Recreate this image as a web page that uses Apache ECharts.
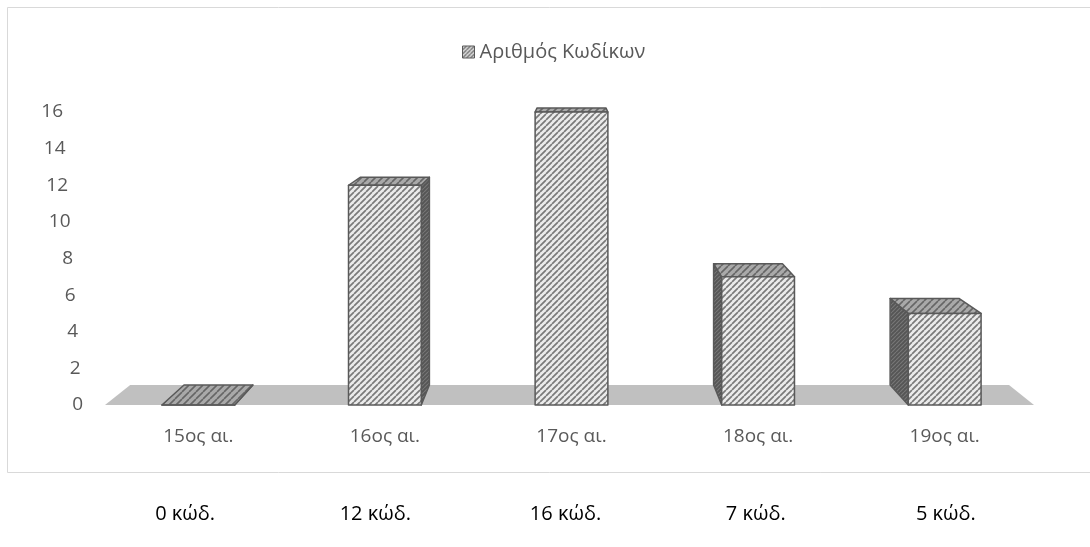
<!DOCTYPE html>
<html>
<head>
<meta charset="utf-8">
<script src="https://cdn.jsdelivr.net/npm/echarts@6/dist/echarts.min.js"></script>
<style>
  html, body { margin: 0; padding: 0; background: #ffffff; }
  #chart { width: 1090px; height: 547px; }
</style>
</head>
<body>
<div id="chart"></div>
<script>
// Codices per century
const categories = ['15ος αι.', '16ος αι.', '17ος αι.', '18ος αι.', '19ος αι.'];
const codexCounts = [0, 12, 16, 7, 5];
const yTicks = [0, 2, 4, 6, 8, 10, 12, 14, 16];
const seriesName = 'Αριθμός Κωδίκων';
const countUnit = 'κώδ.';

const FONT = '"Open Sans", "Noto Sans", sans-serif';
const TEXT_GREY = '#595959';
const EDGE = '#595959';

// Small repeating diagonal-hatch tiles used as fills
function hatch(bg, fg, size, lw) {
  const c = document.createElement('canvas');
  c.width = size; c.height = size;
  const g = c.getContext('2d');
  g.fillStyle = bg;
  g.fillRect(0, 0, size, size);
  g.strokeStyle = fg;
  g.lineWidth = lw;
  g.beginPath();
  for (const o of [-size, 0, size]) {
    g.moveTo(o, size);
    g.lineTo(o + size, 0);
  }
  g.stroke();
  return { image: c, repeat: 'repeat' };
}
const frontFill = hatch('#ebebeb', '#7a7a7a', 6, 1.7);
const topFill = hatch('#a9a9a9', '#666666', 7, 1.6);
const sideFill = hatch('#555555', '#777777', 4, 1.2);

// Perspective: back faces shrink toward a vanishing point above the plot centre
const DEPTH = 0.054;
function vanishing(cs) {
  return [cs.x + cs.width / 2, cs.y - cs.height * 0.26];
}
function toBack(p, vp) {
  return [vp[0] + (p[0] - vp[0]) * (1 - DEPTH), vp[1] + (p[1] - vp[1]) * (1 - DEPTH)];
}

function renderFloor(params, api) {
  const cs = params.coordSys;
  const vp = vanishing(cs);
  const y0 = api.coord([0, 0])[1];
  const fl = [cs.x, y0], fr = [cs.x + cs.width - 4, y0];
  return {
    type: 'polygon',
    shape: { points: [fl, fr, toBack(fr, vp), toBack(fl, vp)] },
    style: { fill: '#c0c0c0', stroke: null }
  };
}

function renderBar(params, api) {
  const cs = params.coordSys;
  const vp = vanishing(cs);
  const i = api.value(0), v = api.value(1);
  const base = api.coord([i, 0]);
  const top = api.coord([i, v]);
  const bw = api.size([1, 0])[0] * 0.39;
  const x0 = base[0] - bw / 2, x1 = base[0] + bw / 2;
  const yb = base[1], yt = top[1];
  const ftl = [x0, yt], ftr = [x1, yt], fbl = [x0, yb], fbr = [x1, yb];
  const btl = toBack(ftl, vp), btr = toBack(ftr, vp);
  const bbl = toBack(fbl, vp), bbr = toBack(fbr, vp);
  const edge = { stroke: EDGE, lineWidth: 1.5, lineJoin: 'round' };
  const children = [];
  if (x1 < vp[0]) {
    children.push({ type: 'polygon', shape: { points: [ftr, btr, bbr, fbr] },
      style: Object.assign({ fill: sideFill }, edge) });
  } else if (x0 > vp[0]) {
    children.push({ type: 'polygon', shape: { points: [ftl, btl, bbl, fbl] },
      style: Object.assign({ fill: sideFill }, edge) });
  }
  children.push({ type: 'polygon', shape: { points: [ftl, ftr, btr, btl] },
    style: Object.assign({ fill: topFill }, edge) });
  children.push({ type: 'polygon', shape: { points: [ftl, ftr, fbr, fbl] },
    style: Object.assign({ fill: frontFill }, edge) });
  return { type: 'group', children };
}

// Tick labels drift right toward the floor, following the chart's perspective
const tickRich = {};
yTicks.forEach(t => {
  tickRich['t' + t] = { fontFamily: FONT, fontSize: 19, color: TEXT_GREY, padding: [0, t * 1.25, 0, 0] };
});

const chart = echarts.init(document.getElementById('chart'), null, { renderer: 'canvas' });
chart.setOption({
  animation: false,
  backgroundColor: '#ffffff',
  graphic: [{
    type: 'rect',
    shape: { x: 7.5, y: 7.5, width: 1100, height: 465 },
    style: { fill: null, stroke: '#d9d9d9', lineWidth: 1 },
    silent: true
  }],
  legend: {
    left: 457, top: 37,
    itemWidth: 12, itemHeight: 12, itemGap: 6,
    textStyle: { fontFamily: FONT, fontSize: 20, color: TEXT_GREY },
    data: [{
      name: seriesName, icon: 'rect',
      itemStyle: { color: hatch('#e0e0e0', '#6e6e6e', 4, 1.3), borderColor: EDGE, borderWidth: 1 }
    }],
    selectedMode: false
  },
  grid: [
    { left: 105, right: 52, top: 112, bottom: 142, containLabel: false },
    { left: 90, width: 951, top: 490, height: 1, containLabel: false }
  ],
  xAxis: [{
    type: 'category', gridIndex: 0, data: categories,
    axisLine: { show: false }, axisTick: { show: false }, splitLine: { show: false },
    axisLabel: { fontFamily: FONT, fontSize: 19, color: TEXT_GREY, margin: 22 }
  }, {
    type: 'category', gridIndex: 1, data: categories,
    axisLine: { show: false }, axisTick: { show: false }, splitLine: { show: false },
    axisLabel: {
      fontFamily: FONT, fontSize: 20, color: '#000000', margin: 13,
      formatter: (val, idx) => codexCounts[idx] + ' ' + countUnit
    }
  }],
  yAxis: [{
    type: 'value', gridIndex: 0, min: 0, max: 16, interval: 2,
    axisLine: { show: false }, axisTick: { show: false }, splitLine: { show: false },
    axisLabel: {
      margin: 22, align: 'right',
      formatter: v => '{t' + v + '|' + v + '}',
      rich: tickRich
    }
  }, {
    type: 'value', gridIndex: 1, show: false
  }],
  series: [{
    name: 'floor', type: 'custom', xAxisIndex: 0, yAxisIndex: 0, z: 1,
    renderItem: renderFloor, data: [[0, 0]], silent: true
  }, {
    name: seriesName, type: 'custom', xAxisIndex: 0, yAxisIndex: 0, z: 2,
    itemStyle: { color: '#bfbfbf' },
    encode: { x: 0, y: 1 },
    renderItem: renderBar,
    data: codexCounts.map((v, i) => [i, v])
  }]
});
</script>
</body>
</html>
